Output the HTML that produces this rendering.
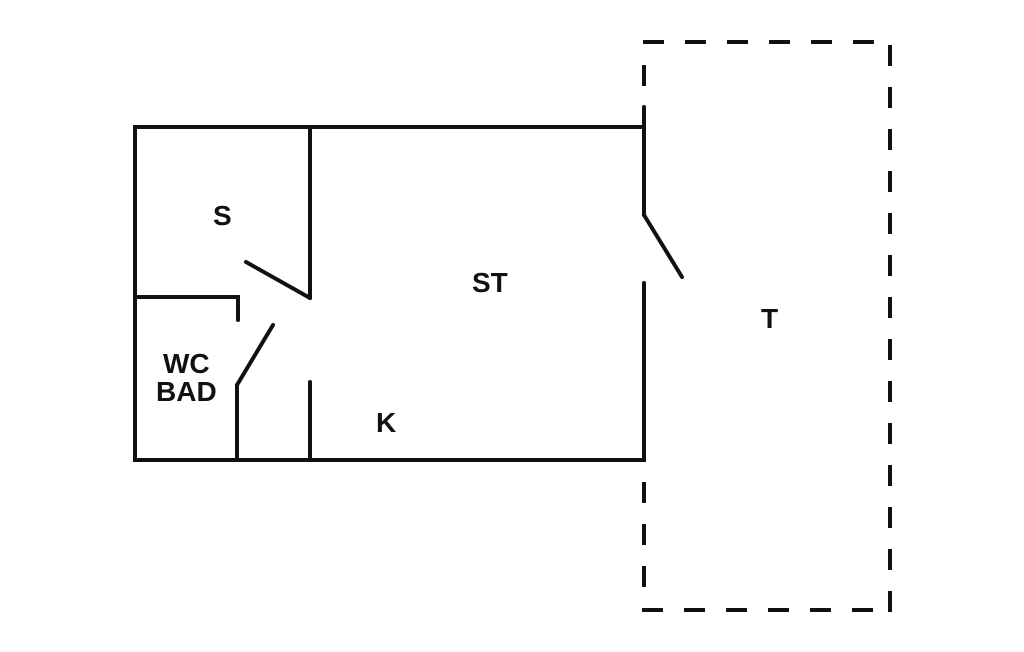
<!DOCTYPE html>
<html><head><meta charset="utf-8"><style>
html,body{margin:0;padding:0;background:#fff;}
svg{display:block;}
text{font-family:"Liberation Sans",sans-serif;font-weight:bold;font-size:28px;fill:#111;}
</style></head><body>
<svg width="1024" height="652" viewBox="0 0 1024 652" xmlns="http://www.w3.org/2000/svg">
<g stroke="#111" stroke-width="4" fill="none" stroke-linecap="round" stroke-linejoin="miter">
  <!-- outer walls -->
  <polyline points="644,127 135,127 135,460 644,460 644,283"/>
  <line x1="644" y1="107" x2="644" y2="215"/>
  <!-- S / ST wall -->
  <line x1="310" y1="127" x2="310" y2="298"/>
  <line x1="310" y1="298" x2="246" y2="262"/>
  <!-- WC wall -->
  <polyline points="135,297 238,297 238,320"/>
  <line x1="237" y1="385" x2="273" y2="325"/>
  <line x1="237" y1="385" x2="237" y2="460"/>
  <line x1="310" y1="382" x2="310" y2="460"/>
  <!-- terrace door -->
  <line x1="644" y1="215" x2="682" y2="277"/>
</g>
<g stroke="#111" stroke-width="4" fill="none">
  <!-- dashed terrace -->
  <line x1="643" y1="42" x2="875" y2="42" stroke-dasharray="21 21"/>
  <line x1="642" y1="610" x2="875" y2="610" stroke-dasharray="21 21"/>
  <line x1="890" y1="45" x2="890" y2="612" stroke-dasharray="21 21"/>
  <line x1="644" y1="65" x2="644" y2="86"/>
  <line x1="644" y1="482" x2="644" y2="503"/>
  <line x1="644" y1="524" x2="644" y2="545"/>
  <line x1="644" y1="566" x2="644" y2="587"/>
</g>
<text x="213" y="225">S</text>
<text x="472" y="292">ST</text>
<text x="761" y="328">T</text>
<text x="163" y="373">WC</text>
<text x="156" y="401">BAD</text>
<text x="376" y="432">K</text>
</svg>
</body></html>
